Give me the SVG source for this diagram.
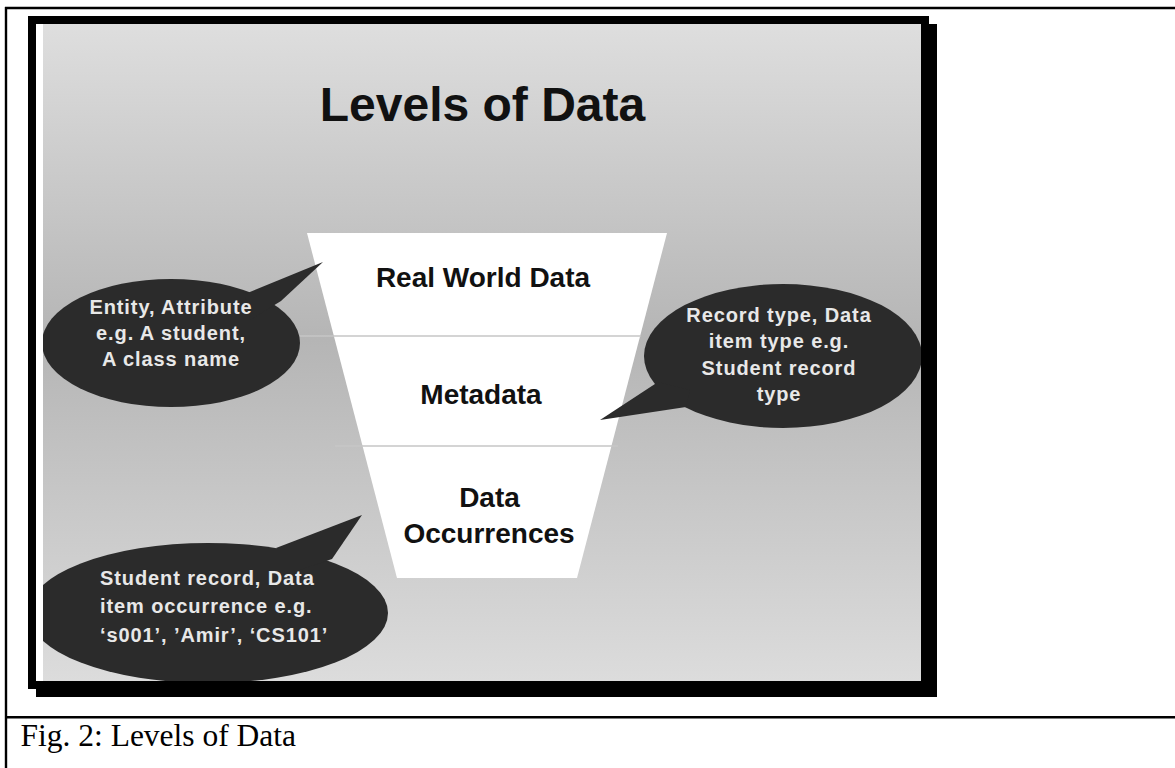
<svg xmlns="http://www.w3.org/2000/svg" width="1175" height="768" viewBox="0 0 1175 768">
<style>
.rule{stroke:#000;stroke-width:2.4;fill:none}
.title{font-family:"Liberation Sans",Arial,sans-serif;font-weight:bold;font-size:48px;fill:#111}
.lvl{font-family:"Liberation Sans",Arial,sans-serif;font-weight:bold;font-size:28px;fill:#111;text-anchor:middle}
.co{fill:#2b2b2b}
.ct{font-family:"Liberation Sans",Arial,sans-serif;font-weight:bold;font-size:20px;fill:#e8e8e8;letter-spacing:0.9px}
.div{stroke:#c6c6c6;stroke-width:1.6}
.cap{font-family:"Liberation Serif","Times New Roman",serif;font-size:31.5px;fill:#000}
</style>
<defs>
<linearGradient id="bg" x1="0" y1="0" x2="0" y2="1">
<stop offset="0" stop-color="#dedede"/>
<stop offset="0.48" stop-color="#b5b5b5"/>
<stop offset="1" stop-color="#dcdcdc"/>
</linearGradient>
<clipPath id="slide"><rect x="43" y="24" width="878" height="657"/></clipPath>
</defs>
<rect width="1175" height="768" fill="#fff"/>
<g id="table">
<line class="rule" x1="5" y1="8" x2="1175" y2="8"/>
<line class="rule" x1="6" y1="7" x2="6" y2="768"/>
<line class="rule" x1="5" y1="717.3" x2="1175" y2="717.3"/>
</g>
<g id="frame">
<rect x="36" y="24" width="901" height="673" fill="#000"/>
<rect x="28" y="16" width="901" height="673" fill="#000"/>
<rect x="36" y="24" width="885" height="657" fill="#fff"/>
<rect x="43" y="24" width="878" height="657" fill="url(#bg)"/>
</g>
<text class="title" x="482.5" y="120.5" text-anchor="middle">Levels of Data</text>
<g id="funnel">
<polygon points="307,233 667,233 577,578 397,578" fill="#fff"/>
</g>
<g id="connectors">
<line class="div" x1="300" y1="336" x2="641" y2="336"/>
<line class="div" x1="335" y1="446" x2="618" y2="446"/>
</g>
<g id="level-real-world">
<text class="lvl" x="483" y="286.5">Real World Data</text>
</g>
<g id="level-metadata">
<text class="lvl" x="481" y="404">Metadata</text>
</g>
<g id="level-occurrences">
<text class="lvl" x="489.5" y="506.5">Data</text>
<text class="lvl" x="489" y="542.5">Occurrences</text>
</g>
<g clip-path="url(#slide)">
<g id="callout-entity">
<ellipse class="co" cx="171" cy="343" rx="129" ry="64"/>
<polygon class="co" points="245,294 323,262 281,301 250,320"/>
<text class="ct" x="171" y="314" text-anchor="middle">Entity, Attribute</text>
<text class="ct" x="171" y="340" text-anchor="middle">e.g. A student,</text>
<text class="ct" x="171" y="365.5" text-anchor="middle">A class name</text>
</g>
<g id="callout-record-type">
<ellipse class="co" cx="783" cy="356" rx="139" ry="72"/>
<polygon class="co" points="658,382 600,420 686,407 690,390"/>
<text class="ct" x="779" y="321.5" text-anchor="middle">Record type, Data</text>
<text class="ct" x="779" y="348" text-anchor="middle">item type e.g.</text>
<text class="ct" x="779" y="374.5" text-anchor="middle">Student record</text>
<text class="ct" x="779" y="400.5" text-anchor="middle">type</text>
</g>
<g id="callout-occurrence">
<ellipse class="co" cx="208" cy="613" rx="180" ry="70"/>
<polygon class="co" points="276,548 362,515 332,559 300,570"/>
<text class="ct" x="100" y="585">Student record, Data</text>
<text class="ct" x="100" y="613">item occurrence e.g.</text>
<text class="ct" x="100" y="641.5">‘s001’, ’Amir’, ‘CS101’</text>
</g>
</g>
<text class="cap" x="20.5" y="746">Fig. 2: Levels of Data</text>
</svg>
